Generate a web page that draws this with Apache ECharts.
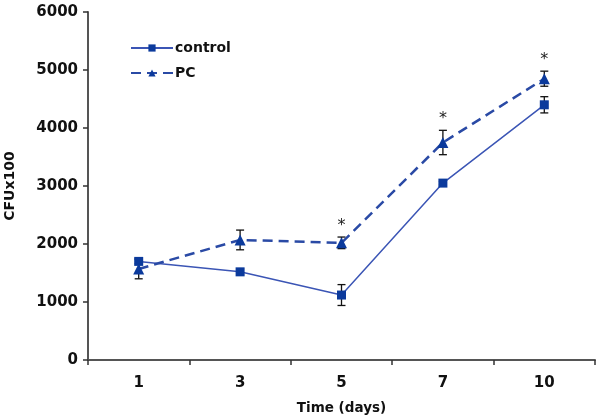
<!DOCTYPE html>
<html>
<head>
<meta charset="utf-8">
<script src="https://cdn.jsdelivr.net/npm/echarts@6/dist/echarts.min.js"></script>
<style>html,body{margin:0;padding:0;background:#fff}#c{width:600px;height:417px}</style>
</head>
<body>
<div id="c"></div>
<script>
var categories = ['1', '3', '5', '7', '10'];
var controlMean = [1700, 1520, 1120, 3050, 4400];
var controlErr = [40, 50, 180, 30, 140];
var pcMean = [1570, 2070, 2020, 3750, 4850];
var pcErr = [170, 170, 100, 210, 130];
var pcSig = [0, 0, 1, 1, 1];
var yTicks = [0, 1000, 2000, 3000, 4000, 5000, 6000];

var FONT = 'DejaVu Sans';
var chart = echarts.init(document.getElementById('c'));

function errSeries(name, mean, err, sig) {
  return {
    type: 'custom',
    name: name + '_err',
    z: 1,
    silent: true,
    data: mean.map(function (m, i) { return [i, m, err[i], sig ? sig[i] : 0]; }),
    renderItem: function (params, api) {
      var x = api.value(0), m = api.value(1), e = api.value(2), s = api.value(3);
      var top = api.coord([x, m + e]);
      var bot = api.coord([x, m - e]);
      var cw = 4;
      var st = { stroke: '#111', lineWidth: 1.3 };
      var children = [
        { type: 'line', shape: { x1: top[0], y1: top[1], x2: bot[0], y2: bot[1] }, style: st },
        { type: 'line', shape: { x1: top[0] - cw, y1: top[1], x2: top[0] + cw, y2: top[1] }, style: st },
        { type: 'line', shape: { x1: bot[0] - cw, y1: bot[1], x2: bot[0] + cw, y2: bot[1] }, style: st }
      ];
      if (s) {
        children.push({
          type: 'text',
          style: { text: '*', x: top[0], y: top[1] - 3, fill: '#222', font: '16px ' + FONT, align: 'center', verticalAlign: 'bottom' }
        });
      }
      return { type: 'group', children: children };
    }
  };
}

chart.setOption({
  animation: false,
  backgroundColor: '#fff',
  grid: { left: 88, right: 5, top: 12, bottom: 57, containLabel: false, outerBoundsMode: 'none' },
  legend: {
    orient: 'vertical',
    left: 125,
    top: 36,
    itemWidth: 42,
    itemHeight: 9,
    itemGap: 11,
    data: ['control', 'PC'],
    textStyle: { fontFamily: FONT, fontWeight: 'bold', fontSize: 14, color: '#111', padding: [0, 0, 0, -3] }
  },
  xAxis: {
    type: 'category',
    data: categories,
    boundaryGap: true,
    name: 'Time (days)',
    nameLocation: 'middle',
    nameGap: 41,
    nameTextStyle: { fontFamily: FONT, fontWeight: 'bold', fontSize: 13.5, color: '#111' },
    axisLine: { lineStyle: { color: '#555', width: 2 } },
    axisTick: { show: true, length: 5, inside: false, lineStyle: { color: '#333', width: 1.5 } },
    axisLabel: { fontFamily: FONT, fontWeight: 'bold', fontSize: 15, color: '#111', margin: 16 }
  },
  yAxis: {
    type: 'value',
    min: 0,
    max: 6000,
    interval: 1000,
    name: 'CFUx100',
    nameLocation: 'middle',
    nameGap: 71,
    nameTextStyle: { fontFamily: FONT, fontWeight: 'bold', fontSize: 14, color: '#111' },
    splitLine: { show: false },
    axisLine: { show: true, lineStyle: { color: '#555', width: 2 } },
    axisTick: { show: true, length: 5, lineStyle: { color: '#333', width: 1.5 } },
    axisLabel: {
      fontFamily: FONT, fontWeight: 'bold', fontSize: 15, color: '#111', margin: 10,
      formatter: function (v) { return yTicks.indexOf(v) >= 0 ? String(v) : ''; }
    }
  },
  series: [
    errSeries('control', controlMean, controlErr, null),
    errSeries('PC', pcMean, pcErr, pcSig),
    {
      name: 'control',
      type: 'line',
      data: controlMean,
      z: 3,
      symbol: 'rect',
      symbolSize: 9,
      itemStyle: { color: '#0b3a9c' },
      lineStyle: { color: '#3b55b5', width: 1.5, type: 'solid' }
    },
    {
      name: 'PC',
      type: 'line',
      data: pcMean,
      z: 3,
      symbol: 'triangle',
      symbolSize: 11,
      itemStyle: { color: '#0b3a9c' },
      lineStyle: { color: '#2a4aa5', width: 2.5, type: [10, 6] }
    }
  ]
});
</script>
</body>
</html>
